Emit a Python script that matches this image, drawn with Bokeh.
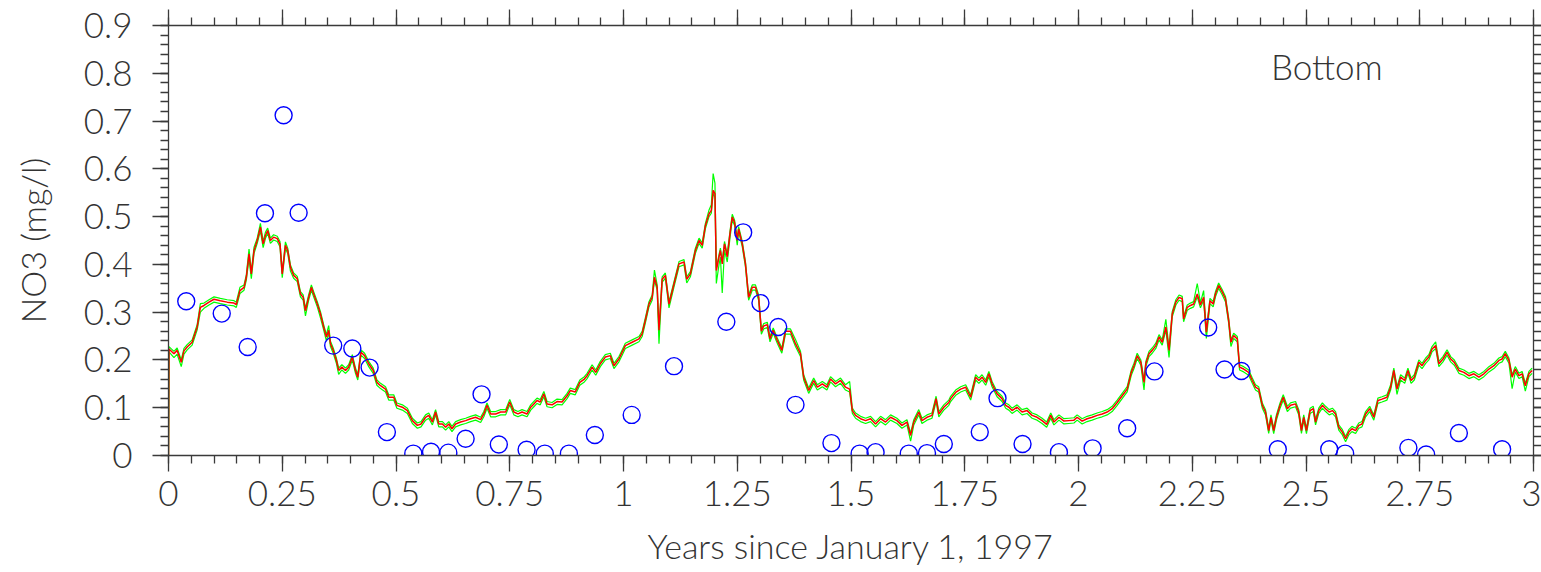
from bokeh.plotting import figure
from bokeh.models import LinearAxis, FixedTicker, Range1d, ColumnDataSource, Label
from bokeh.embed import file_html
from bokeh.resources import INLINE

# ---------------- data ----------------
t = [0.000, 0.001, 0.012, 0.019, 0.028, 0.034, 0.041, 0.052, 0.063, 0.070, 0.078, 0.089, 0.100, 0.114, 0.129,
     0.144, 0.149, 0.157, 0.166, 0.171, 0.177, 0.182, 0.188, 0.195, 0.202, 0.208, 0.213, 0.218, 0.224, 0.231,
     0.239, 0.245, 0.250, 0.257, 0.262, 0.268, 0.275, 0.283, 0.290, 0.296, 0.301, 0.308, 0.314, 0.319, 0.327,
     0.334, 0.341, 0.347, 0.352, 0.356, 0.362, 0.369, 0.374, 0.381, 0.389, 0.396, 0.404, 0.411, 0.416, 0.423,
     0.431, 0.440, 0.450, 0.458, 0.466, 0.477, 0.484, 0.495, 0.502, 0.514, 0.525, 0.536, 0.547, 0.555, 0.565,
     0.572, 0.580, 0.587, 0.594, 0.602, 0.609, 0.616, 0.623, 0.631, 0.642, 0.653, 0.664, 0.675, 0.686, 0.693,
     0.700, 0.708, 0.719, 0.730, 0.741, 0.750, 0.759, 0.768, 0.777, 0.788, 0.796, 0.803, 0.810, 0.817, 0.825,
     0.832, 0.843, 0.854, 0.865, 0.876, 0.883, 0.894, 0.904, 0.914, 0.920, 0.931, 0.939, 0.949, 0.960, 0.971,
     0.979, 0.990, 0.997, 1.004, 1.019, 1.034, 1.041, 1.048, 1.056, 1.063, 1.068, 1.074, 1.078, 1.085, 1.092,
     1.100, 1.111, 1.122, 1.133, 1.139, 1.147, 1.158, 1.166, 1.173, 1.180, 1.188, 1.193, 1.197, 1.201, 1.204,
     1.210, 1.213, 1.217, 1.222, 1.228, 1.234, 1.239, 1.244, 1.250, 1.253, 1.261, 1.268, 1.275, 1.283, 1.290,
     1.297, 1.303, 1.308, 1.316, 1.322, 1.329, 1.338, 1.348, 1.356, 1.367, 1.378, 1.389, 1.396, 1.407, 1.418,
     1.426, 1.437, 1.447, 1.455, 1.466, 1.477, 1.488, 1.497, 1.503, 1.510, 1.521, 1.532, 1.543, 1.554, 1.565,
     1.576, 1.587, 1.601, 1.612, 1.623, 1.631, 1.638, 1.649, 1.656, 1.667, 1.678, 1.687, 1.693, 1.704, 1.715,
     1.719, 1.730, 1.741, 1.752, 1.763, 1.774, 1.781, 1.788, 1.796, 1.803, 1.810, 1.821, 1.832, 1.840, 1.847,
     1.854, 1.865, 1.876, 1.887, 1.898, 1.909, 1.920, 1.930, 1.939, 1.946, 1.957, 1.968, 1.979, 1.990, 1.997,
     2.008, 2.019, 2.030, 2.041, 2.052, 2.063, 2.074, 2.085, 2.096, 2.107, 2.116, 2.122, 2.129, 2.137, 2.144,
     2.148, 2.155, 2.162, 2.170, 2.177, 2.184, 2.192, 2.199, 2.206, 2.214, 2.221, 2.228, 2.231, 2.239, 2.246,
     2.253, 2.261, 2.268, 2.275, 2.281, 2.289, 2.296, 2.301, 2.308, 2.316, 2.323, 2.330, 2.335, 2.341, 2.349,
     2.354, 2.363, 2.374, 2.382, 2.389, 2.396, 2.404, 2.411, 2.418, 2.423, 2.429, 2.435, 2.443, 2.450, 2.459,
     2.466, 2.477, 2.484, 2.490, 2.495, 2.501, 2.509, 2.516, 2.521, 2.528, 2.536, 2.543, 2.551, 2.558, 2.565,
     2.572, 2.580, 2.587, 2.594, 2.601, 2.609, 2.616, 2.623, 2.631, 2.640, 2.649, 2.658, 2.667, 2.678, 2.686,
     2.693, 2.700, 2.708, 2.717, 2.724, 2.731, 2.738, 2.748, 2.755, 2.763, 2.770, 2.777, 2.785, 2.792, 2.801,
     2.810, 2.818, 2.826, 2.836, 2.847, 2.858, 2.869, 2.880, 2.891, 2.902, 2.913, 2.924, 2.931, 2.938, 2.946,
     2.953, 2.960, 2.968, 2.975, 2.982, 2.990, 2.997]

red = [0.000, 0.223, 0.213, 0.220, 0.195, 0.219, 0.227, 0.237, 0.269, 0.310, 0.314, 0.321, 0.327, 0.324, 0.321,
       0.319, 0.316, 0.345, 0.352, 0.373, 0.422, 0.380, 0.429, 0.450, 0.478, 0.443, 0.460, 0.471, 0.450, 0.457,
       0.454, 0.443, 0.380, 0.440, 0.429, 0.394, 0.377, 0.370, 0.338, 0.331, 0.303, 0.331, 0.352, 0.338, 0.317,
       0.296, 0.269, 0.248, 0.262, 0.234, 0.220, 0.199, 0.178, 0.185, 0.178, 0.185, 0.206, 0.178, 0.164, 0.216,
       0.209, 0.192, 0.178, 0.153, 0.146, 0.139, 0.122, 0.122, 0.105, 0.101, 0.094, 0.073, 0.063, 0.066, 0.080,
       0.084, 0.070, 0.091, 0.066, 0.066, 0.059, 0.066, 0.056, 0.066, 0.070, 0.073, 0.077, 0.080, 0.075, 0.087,
       0.105, 0.087, 0.087, 0.091, 0.091, 0.112, 0.091, 0.087, 0.091, 0.087, 0.101, 0.108, 0.115, 0.112, 0.129,
       0.108, 0.106, 0.113, 0.112, 0.125, 0.136, 0.133, 0.153, 0.160, 0.167, 0.185, 0.174, 0.192, 0.206, 0.209,
       0.188, 0.202, 0.216, 0.230, 0.237, 0.244, 0.255, 0.283, 0.317, 0.331, 0.373, 0.352, 0.262, 0.369, 0.377,
       0.317, 0.359, 0.401, 0.405, 0.369, 0.380, 0.429, 0.450, 0.440, 0.481, 0.506, 0.513, 0.555, 0.548, 0.387,
       0.416, 0.429, 0.401, 0.443, 0.416, 0.464, 0.499, 0.488, 0.450, 0.474, 0.443, 0.401, 0.331, 0.352, 0.352,
       0.331, 0.260, 0.271, 0.274, 0.244, 0.262, 0.241, 0.220, 0.260, 0.260, 0.234, 0.213, 0.164, 0.136, 0.157,
       0.143, 0.150, 0.143, 0.160, 0.150, 0.157, 0.143, 0.139, 0.094, 0.084, 0.077, 0.073, 0.077, 0.066, 0.077,
       0.070, 0.080, 0.073, 0.063, 0.070, 0.042, 0.070, 0.091, 0.073, 0.080, 0.084, 0.119, 0.087, 0.101, 0.111,
       0.119, 0.132, 0.139, 0.143, 0.122, 0.164, 0.157, 0.164, 0.153, 0.171, 0.150, 0.129, 0.119, 0.105, 0.101,
       0.094, 0.101, 0.091, 0.094, 0.084, 0.080, 0.073, 0.065, 0.084, 0.070, 0.080, 0.072, 0.073, 0.074, 0.080,
       0.072, 0.077, 0.080, 0.084, 0.087, 0.091, 0.098, 0.111, 0.125, 0.139, 0.174, 0.188, 0.209, 0.195, 0.153,
       0.192, 0.213, 0.220, 0.230, 0.248, 0.237, 0.269, 0.220, 0.296, 0.321, 0.331, 0.328, 0.286, 0.310, 0.314,
       0.317, 0.338, 0.315, 0.331, 0.258, 0.324, 0.317, 0.338, 0.356, 0.342, 0.328, 0.283, 0.237, 0.251, 0.244,
       0.185, 0.181, 0.174, 0.157, 0.143, 0.139, 0.105, 0.091, 0.052, 0.080, 0.052, 0.080, 0.105, 0.122, 0.098,
       0.105, 0.108, 0.091, 0.052, 0.080, 0.052, 0.094, 0.098, 0.070, 0.094, 0.105, 0.098, 0.091, 0.094, 0.087,
       0.059, 0.049, 0.035, 0.049, 0.056, 0.052, 0.063, 0.066, 0.087, 0.098, 0.080, 0.115, 0.118, 0.122, 0.143,
       0.178, 0.139, 0.164, 0.157, 0.178, 0.157, 0.164, 0.195, 0.188, 0.199, 0.206, 0.223, 0.230, 0.192, 0.202,
       0.216, 0.202, 0.195, 0.178, 0.174, 0.167, 0.171, 0.164, 0.171, 0.181, 0.188, 0.199, 0.202, 0.213, 0.199,
       0.164, 0.181, 0.167, 0.171, 0.146, 0.171, 0.178]

green_hi = [0.000, 0.228, 0.218, 0.225, 0.200, 0.224, 0.232, 0.242, 0.274, 0.318, 0.319, 0.326, 0.332, 0.329, 0.326,
            0.324, 0.321, 0.352, 0.357, 0.378, 0.432, 0.385, 0.436, 0.455, 0.486, 0.448, 0.467, 0.476, 0.455, 0.462,
            0.459, 0.448, 0.385, 0.447, 0.434, 0.399, 0.382, 0.375, 0.343, 0.336, 0.308, 0.336, 0.357, 0.343, 0.322,
            0.301, 0.274, 0.253, 0.272, 0.239, 0.225, 0.204, 0.183, 0.190, 0.183, 0.190, 0.211, 0.183, 0.169, 0.221,
            0.214, 0.197, 0.183, 0.158, 0.151, 0.144, 0.127, 0.127, 0.110, 0.106, 0.099, 0.078, 0.068, 0.071, 0.085,
            0.089, 0.075, 0.096, 0.071, 0.071, 0.064, 0.071, 0.061, 0.071, 0.075, 0.078, 0.082, 0.085, 0.080, 0.092,
            0.110, 0.092, 0.092, 0.096, 0.096, 0.117, 0.096, 0.092, 0.096, 0.092, 0.106, 0.113, 0.120, 0.117, 0.134,
            0.113, 0.111, 0.118, 0.117, 0.130, 0.141, 0.138, 0.158, 0.165, 0.172, 0.190, 0.179, 0.197, 0.211, 0.214,
            0.193, 0.207, 0.221, 0.235, 0.242, 0.249, 0.260, 0.288, 0.322, 0.336, 0.388, 0.357, 0.267, 0.374, 0.382,
            0.322, 0.364, 0.406, 0.410, 0.374, 0.385, 0.434, 0.455, 0.445, 0.486, 0.514, 0.525, 0.590, 0.570, 0.392,
            0.421, 0.434, 0.406, 0.448, 0.421, 0.469, 0.505, 0.493, 0.455, 0.479, 0.448, 0.406, 0.336, 0.357, 0.357,
            0.336, 0.265, 0.276, 0.279, 0.249, 0.267, 0.246, 0.225, 0.265, 0.265, 0.243, 0.218, 0.169, 0.141, 0.162,
            0.148, 0.155, 0.148, 0.165, 0.155, 0.162, 0.148, 0.155, 0.099, 0.089, 0.082, 0.078, 0.082, 0.071, 0.082,
            0.075, 0.085, 0.078, 0.068, 0.075, 0.047, 0.075, 0.096, 0.078, 0.085, 0.089, 0.124, 0.092, 0.106, 0.116,
            0.124, 0.137, 0.144, 0.148, 0.127, 0.169, 0.162, 0.169, 0.158, 0.176, 0.155, 0.134, 0.124, 0.110, 0.106,
            0.099, 0.106, 0.096, 0.099, 0.089, 0.085, 0.078, 0.070, 0.089, 0.075, 0.085, 0.077, 0.078, 0.079, 0.085,
            0.077, 0.082, 0.085, 0.089, 0.092, 0.096, 0.103, 0.116, 0.130, 0.144, 0.179, 0.193, 0.214, 0.200, 0.158,
            0.197, 0.218, 0.225, 0.235, 0.253, 0.242, 0.285, 0.225, 0.301, 0.326, 0.336, 0.333, 0.291, 0.315, 0.319,
            0.322, 0.360, 0.320, 0.345, 0.263, 0.329, 0.322, 0.343, 0.361, 0.347, 0.333, 0.288, 0.242, 0.256, 0.249,
            0.190, 0.186, 0.179, 0.162, 0.148, 0.144, 0.110, 0.096, 0.057, 0.085, 0.057, 0.085, 0.110, 0.127, 0.103,
            0.110, 0.113, 0.096, 0.057, 0.085, 0.057, 0.099, 0.103, 0.075, 0.099, 0.110, 0.103, 0.096, 0.099, 0.092,
            0.064, 0.054, 0.040, 0.054, 0.061, 0.057, 0.068, 0.071, 0.092, 0.103, 0.085, 0.120, 0.123, 0.127, 0.148,
            0.183, 0.144, 0.169, 0.162, 0.183, 0.162, 0.169, 0.200, 0.193, 0.204, 0.211, 0.228, 0.238, 0.197, 0.207,
            0.221, 0.207, 0.200, 0.183, 0.179, 0.172, 0.176, 0.169, 0.176, 0.186, 0.193, 0.204, 0.207, 0.218, 0.204,
            0.169, 0.186, 0.172, 0.176, 0.151, 0.176, 0.183]

green_lo = [0.000, 0.217, 0.205, 0.212, 0.186, 0.212, 0.221, 0.231, 0.263, 0.300, 0.308, 0.315, 0.321, 0.318, 0.315,
            0.313, 0.310, 0.339, 0.346, 0.367, 0.412, 0.370, 0.423, 0.444, 0.470, 0.435, 0.454, 0.465, 0.444, 0.451,
            0.448, 0.437, 0.372, 0.434, 0.423, 0.386, 0.371, 0.364, 0.332, 0.325, 0.292, 0.325, 0.346, 0.332, 0.311,
            0.288, 0.263, 0.240, 0.256, 0.228, 0.214, 0.193, 0.170, 0.179, 0.172, 0.179, 0.200, 0.172, 0.158, 0.210,
            0.203, 0.186, 0.172, 0.147, 0.140, 0.133, 0.116, 0.116, 0.099, 0.095, 0.088, 0.067, 0.057, 0.060, 0.074,
            0.078, 0.064, 0.085, 0.060, 0.060, 0.053, 0.060, 0.050, 0.060, 0.064, 0.067, 0.071, 0.074, 0.069, 0.081,
            0.099, 0.081, 0.081, 0.085, 0.085, 0.106, 0.085, 0.081, 0.085, 0.081, 0.095, 0.102, 0.109, 0.106, 0.123,
            0.102, 0.100, 0.107, 0.106, 0.119, 0.130, 0.127, 0.147, 0.154, 0.161, 0.179, 0.168, 0.186, 0.200, 0.203,
            0.182, 0.196, 0.210, 0.224, 0.231, 0.238, 0.249, 0.277, 0.311, 0.325, 0.367, 0.346, 0.234, 0.363, 0.371,
            0.309, 0.353, 0.395, 0.399, 0.361, 0.374, 0.423, 0.444, 0.434, 0.475, 0.500, 0.507, 0.549, 0.540, 0.360,
            0.400, 0.415, 0.340, 0.430, 0.405, 0.455, 0.493, 0.482, 0.440, 0.468, 0.437, 0.395, 0.325, 0.346, 0.346,
            0.325, 0.254, 0.265, 0.268, 0.238, 0.256, 0.235, 0.214, 0.254, 0.254, 0.228, 0.207, 0.158, 0.130, 0.151,
            0.137, 0.144, 0.137, 0.154, 0.144, 0.151, 0.137, 0.133, 0.088, 0.078, 0.071, 0.067, 0.071, 0.060, 0.071,
            0.064, 0.074, 0.067, 0.057, 0.064, 0.030, 0.064, 0.085, 0.067, 0.074, 0.078, 0.113, 0.081, 0.095, 0.105,
            0.113, 0.126, 0.133, 0.137, 0.116, 0.158, 0.151, 0.158, 0.147, 0.165, 0.144, 0.123, 0.113, 0.099, 0.095,
            0.088, 0.095, 0.085, 0.088, 0.078, 0.074, 0.067, 0.059, 0.078, 0.064, 0.074, 0.066, 0.067, 0.068, 0.074,
            0.066, 0.071, 0.074, 0.078, 0.081, 0.085, 0.092, 0.105, 0.119, 0.133, 0.168, 0.182, 0.203, 0.189, 0.137,
            0.186, 0.207, 0.214, 0.224, 0.242, 0.231, 0.263, 0.205, 0.290, 0.315, 0.325, 0.322, 0.280, 0.304, 0.308,
            0.311, 0.332, 0.309, 0.325, 0.245, 0.318, 0.311, 0.332, 0.350, 0.336, 0.322, 0.277, 0.228, 0.245, 0.238,
            0.179, 0.175, 0.168, 0.151, 0.137, 0.133, 0.099, 0.085, 0.046, 0.074, 0.046, 0.074, 0.099, 0.116, 0.092,
            0.099, 0.102, 0.085, 0.046, 0.074, 0.046, 0.088, 0.092, 0.064, 0.088, 0.099, 0.092, 0.085, 0.088, 0.081,
            0.053, 0.043, 0.029, 0.043, 0.050, 0.046, 0.057, 0.060, 0.081, 0.092, 0.074, 0.109, 0.112, 0.116, 0.137,
            0.172, 0.128, 0.158, 0.151, 0.172, 0.151, 0.158, 0.189, 0.182, 0.193, 0.200, 0.217, 0.224, 0.186, 0.196,
            0.210, 0.196, 0.189, 0.172, 0.168, 0.161, 0.165, 0.158, 0.165, 0.175, 0.182, 0.193, 0.196, 0.207, 0.193,
            0.140, 0.175, 0.161, 0.165, 0.135, 0.165, 0.172]

obs_t = [0.039, 0.117, 0.174, 0.212, 0.253, 0.286, 0.362, 0.404, 0.442, 0.480, 0.538, 0.577, 0.615, 0.653, 0.688,
         0.726, 0.787, 0.827, 0.880, 0.937, 1.018, 1.111, 1.226, 1.263, 1.301, 1.340, 1.378, 1.457, 1.519, 1.554,
         1.627, 1.667, 1.704, 1.783, 1.822, 1.877, 1.957, 2.031, 2.107, 2.167, 2.285, 2.321, 2.358, 2.438, 2.551,
         2.586, 2.725, 2.764, 2.836, 2.931]
obs_v = [0.323, 0.297, 0.227, 0.507, 0.712, 0.508, 0.230, 0.224, 0.184, 0.049, 0.004, 0.008, 0.006, 0.035, 0.128,
         0.023, 0.012, 0.004, 0.004, 0.043, 0.085, 0.187, 0.280, 0.467, 0.319, 0.269, 0.106, 0.026, 0.004, 0.007,
         0.004, 0.005, 0.024, 0.049, 0.120, 0.024, 0.007, 0.015, 0.057, 0.176, 0.268, 0.180, 0.177, 0.013, 0.013,
         0.004, 0.016, 0.002, 0.047, 0.013]

x_ticks = [0, 0.25, 0.5, 0.75, 1, 1.25, 1.5, 1.75, 2, 2.25, 2.5, 2.75, 3]
x_tick_labels = ["0", "0.25", "0.5", "0.75", "1", "1.25", "1.5", "1.75", "2", "2.25", "2.5", "2.75", "3"]
y_ticks = [0, 0.1, 0.2, 0.3, 0.4, 0.5, 0.6, 0.7, 0.8, 0.9]
y_tick_labels = ["0", "0.1", "0.2", "0.3", "0.4", "0.5", "0.6", "0.7", "0.8", "0.9"]
x_minor = [round(i * 0.05, 2) for i in range(61)]
y_minor = [round(i * 0.02, 2) for i in range(46)]

x_title = "Years since January 1, 1997"
y_title = "NO3 (mg/l)"
panel_label = "Bottom"

FONT = "Lato Light"
INK = "#3a3a3a"
TXT = "#333333"

# ---------------- figure ----------------
p = figure(width=1541, height=572, output_backend="svg", toolbar_location=None,
           x_range=Range1d(0, 3), y_range=Range1d(0, 0.9),
           x_axis_location=None, y_axis_location=None,
           min_border_left=168, min_border_right=0, min_border_top=25, min_border_bottom=117)
p.outline_line_color = None
p.xgrid.visible = False
p.ygrid.visible = False
p.background_fill_color = "white"
p.border_fill_color = "white"


def style_axis(ax, ticks, minor, labels, show_labels, major_out, minor_out):
    ax.ticker = FixedTicker(ticks=ticks, minor_ticks=minor)
    ax.axis_line_color = INK
    ax.axis_line_width = 1.3
    ax.major_tick_line_color = INK
    ax.minor_tick_line_color = INK
    ax.major_tick_line_width = 1.3
    ax.minor_tick_line_width = 1.3
    ax.major_tick_in = 0
    ax.minor_tick_in = 0
    ax.major_tick_out = major_out
    ax.minor_tick_out = minor_out
    if show_labels:
        ax.major_label_overrides = {float(k): v for k, v in zip(ticks, labels)}
        ax.major_label_text_font = FONT
        ax.major_label_text_font_size = "35px"
        ax.major_label_text_color = TXT
    else:
        ax.major_label_text_font_size = "1px"
        ax.major_label_text_color = None
        ax.major_label_standoff = 0


xb = LinearAxis(axis_label=x_title)
style_axis(xb, x_ticks, x_minor, x_tick_labels, True, 16, 8)
xb.major_label_standoff = 9
xb.axis_label_text_font = FONT
xb.axis_label_text_font_size = "34px"
xb.axis_label_text_font_style = "normal"
xb.axis_label_text_color = TXT
xb.axis_label_standoff = 16
p.add_layout(xb, "below")

xt = LinearAxis()
style_axis(xt, x_ticks, x_minor, x_tick_labels, False, 16, 8)
p.add_layout(xt, "above")

yl = LinearAxis(axis_label=y_title)
style_axis(yl, y_ticks, y_minor, y_tick_labels, True, 16, 8)
yl.major_label_standoff = 20
yl.axis_label_text_font = FONT
yl.axis_label_text_font_size = "34px"
yl.axis_label_text_font_style = "normal"
yl.axis_label_text_color = TXT
yl.axis_label_standoff = 28
p.add_layout(yl, "left")

yr = LinearAxis()
style_axis(yr, y_ticks, y_minor, y_tick_labels, False, 8, 8)
p.add_layout(yr, "right")

# ---------------- glyphs ----------------
src = ColumnDataSource(dict(t=t, red=red, hi=green_hi, lo=green_lo))
p.line("t", "lo", source=src, line_color="#00ff00", line_width=1.2)
p.line("t", "hi", source=src, line_color="#00ff00", line_width=1.2)
p.line("t", "red", source=src, line_color="#ff0000", line_width=1.5)

obs = ColumnDataSource(dict(t=obs_t, v=obs_v))
p.scatter("t", "v", source=obs, marker="circle", size=17, fill_color=None,
          line_color="#0000ff", line_width=1.4)

p.add_layout(Label(x=2.423, y=0.815, text=panel_label, text_font=FONT, text_font_size="35px",
                   text_color=TXT, text_baseline="alphabetic", text_align="left"))

open("out.html", "w").write(file_html(p, INLINE))
